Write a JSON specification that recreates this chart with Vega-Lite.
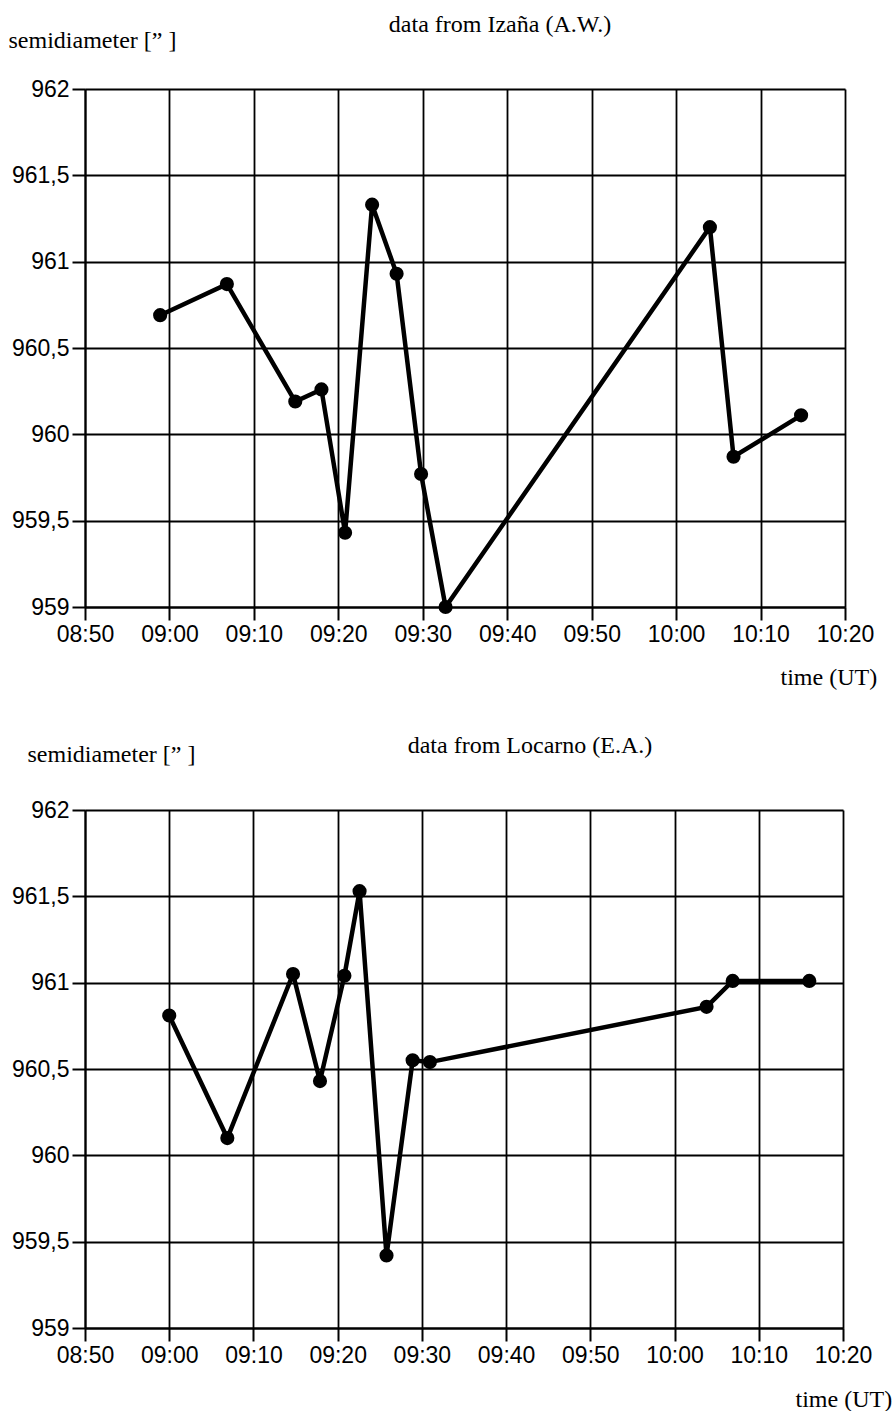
{
  "$schema": "https://vega.github.io/schema/vega-lite/v6.json",
  "padding": {"left": 8, "top": 13, "right": 0, "bottom": 0},
  "config": {
    "view": {"stroke": null},
    "axis": {
      "domainColor": "black", "domainWidth": 2,
      "tickColor": "black", "tickWidth": 2,
      "gridColor": "black", "gridWidth": 1.8,
      "labelColor": "black", "labelFont": "Liberation Sans", "labelFontSize": 23,
      "titleFont": "Liberation Serif", "titleFontSize": 24, "titleFontWeight": "normal", "titleColor": "black"
    },
    "title": {"font": "Liberation Serif", "fontSize": 24, "fontWeight": "normal", "color": "black"}
  },
  "columns": 1,
  "align": "none",
  "spacing": 45,
  "concat": [
    {
      "width": 760, "height": 518,
      "data": {"values": [
        {"time": "2000-01-01T08:58:54Z", "semidiameter": 960.69},
        {"time": "2000-01-01T09:06:48Z", "semidiameter": 960.87},
        {"time": "2000-01-01T09:14:54Z", "semidiameter": 960.19},
        {"time": "2000-01-01T09:18:00Z", "semidiameter": 960.26},
        {"time": "2000-01-01T09:20:48Z", "semidiameter": 959.43},
        {"time": "2000-01-01T09:24:00Z", "semidiameter": 961.33},
        {"time": "2000-01-01T09:26:54Z", "semidiameter": 960.93},
        {"time": "2000-01-01T09:29:48Z", "semidiameter": 959.77},
        {"time": "2000-01-01T09:32:42Z", "semidiameter": 959.0},
        {"time": "2000-01-01T10:04:00Z", "semidiameter": 961.2},
        {"time": "2000-01-01T10:06:48Z", "semidiameter": 959.87},
        {"time": "2000-01-01T10:14:48Z", "semidiameter": 960.11}
      ]},
      "title": {"text": "data from Izaña (A.W.)", "dx": 35, "offset": -9},
      "mark": {"type": "line", "color": "black", "strokeWidth": 4.5, "point": {"filled": true, "color": "black", "size": 200, "opacity": 1}},
      "encoding": {
        "x": {
          "field": "time", "type": "temporal",
          "scale": {"type": "utc", "domain": [946716600000, 946722000000]},
          "axis": {
            "grid": true,
            "title": "time (UT)",
            "values": [946716600000, 946717200000, 946717800000, 946718400000, 946719000000, 946719600000, 946720200000, 946720800000, 946721400000, 946722000000],
            "format": "%H:%M",
            "labelOverlap": false, "labelFlush": false,
            "tickSize": 13, "labelPadding": 3,
            "titleX": 695, "titleY": 58, "titleAlign": "left"
          }
        },
        "y": {
          "field": "semidiameter", "type": "quantitative",
          "scale": {"domain": [959, 962], "zero": false, "nice": false},
          "axis": {
            "grid": true,
            "values": [959, 959.5, 960, 960.5, 961, 961.5, 962],
            "format": ".1~f",
            "labelExpr": "replace(datum.label, '.', ',')",
            "labelOverlap": false,
            "tickSize": 13, "labelPadding": 3,
            "title": "semidiameter [” ]",
            "titleAngle": 0, "titleAlign": "left",
            "titleX": -77, "titleY": -37
          }
        }
      }
    },
    {
      "width": 758, "height": 518,
      "data": {"values": [
        {"time": "2000-01-01T09:00:00Z", "semidiameter": 960.81},
        {"time": "2000-01-01T09:06:54Z", "semidiameter": 960.1},
        {"time": "2000-01-01T09:14:42Z", "semidiameter": 961.05},
        {"time": "2000-01-01T09:17:54Z", "semidiameter": 960.43},
        {"time": "2000-01-01T09:20:48Z", "semidiameter": 961.04},
        {"time": "2000-01-01T09:22:36Z", "semidiameter": 961.53},
        {"time": "2000-01-01T09:25:48Z", "semidiameter": 959.42},
        {"time": "2000-01-01T09:28:54Z", "semidiameter": 960.55},
        {"time": "2000-01-01T09:30:57Z", "semidiameter": 960.54},
        {"time": "2000-01-01T10:03:48Z", "semidiameter": 960.86},
        {"time": "2000-01-01T10:06:54Z", "semidiameter": 961.01},
        {"time": "2000-01-01T10:16:00Z", "semidiameter": 961.01}
      ]},
      "title": {"text": "data from Locarno (E.A.)", "dx": 66, "offset": -16},
      "mark": {"type": "line", "color": "black", "strokeWidth": 4.5, "point": {"filled": true, "color": "black", "size": 200, "opacity": 1}},
      "encoding": {
        "x": {
          "field": "time", "type": "temporal",
          "scale": {"type": "utc", "domain": [946716600000, 946722000000]},
          "axis": {
            "grid": true,
            "title": "time (UT)",
            "values": [946716600000, 946717200000, 946717800000, 946718400000, 946719000000, 946719600000, 946720200000, 946720800000, 946721400000, 946722000000],
            "format": "%H:%M",
            "labelOverlap": false, "labelFlush": false,
            "tickSize": 13, "labelPadding": 3,
            "titleX": 710, "titleY": 59, "titleAlign": "left"
          }
        },
        "y": {
          "field": "semidiameter", "type": "quantitative",
          "scale": {"domain": [959, 962], "zero": false, "nice": false},
          "axis": {
            "grid": true,
            "values": [959, 959.5, 960, 960.5, 961, 961.5, 962],
            "format": ".1~f",
            "labelExpr": "replace(datum.label, '.', ',')",
            "labelOverlap": false,
            "tickSize": 13, "labelPadding": 3,
            "title": "semidiameter [” ]",
            "titleAngle": 0, "titleAlign": "left",
            "titleX": -58, "titleY": -44
          }
        }
      }
    }
  ]
}
